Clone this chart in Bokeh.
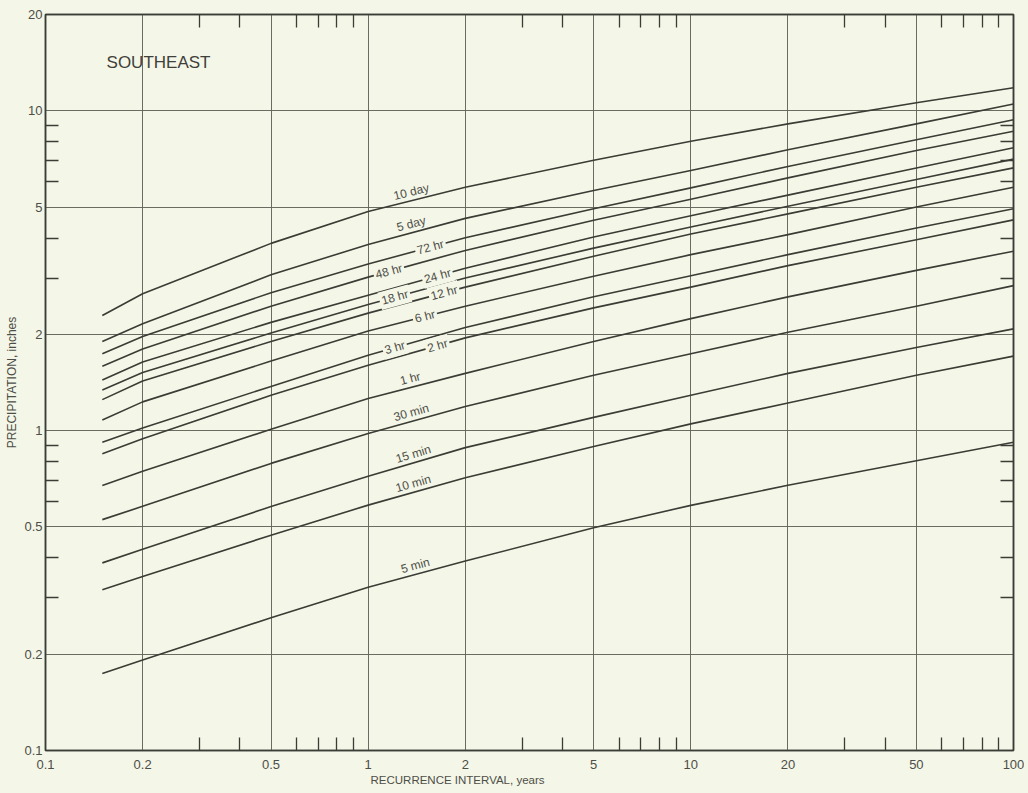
import numpy as np
from bokeh.plotting import figure
from bokeh.models import FixedTicker, LogAxis, Label, ColumnDataSource, Title
from bokeh.embed import file_html
from bokeh.resources import INLINE
from bokeh.core.properties import value

# ---------------- data ----------------
recurrence_years = [0.15, 0.2, 0.5, 1, 2, 5, 10, 20, 50, 100]

durations = ["10 day", "5 day", "72 hr", "48 hr", "24 hr", "18 hr", "12 hr",
             "6 hr", "3 hr", "2 hr", "1 hr", "30 min", "15 min", "10 min", "5 min"]

precip_10day = [2.29, 2.68, 3.85, 4.84, 5.77, 7.00, 8.03, 9.10, 10.6, 11.8]
precip_5day = [1.90, 2.16, 3.07, 3.82, 4.61, 5.63, 6.51, 7.55, 9.10, 10.5]
precip_72hr = [1.74, 1.97, 2.70, 3.32, 4.01, 4.94, 5.74, 6.70, 8.12, 9.37]
precip_48hr = [1.59, 1.80, 2.45, 3.02, 3.66, 4.55, 5.29, 6.17, 7.51, 8.63]
precip_24hr = [1.44, 1.64, 2.18, 2.65, 3.22, 4.03, 4.70, 5.45, 6.62, 7.66]
precip_18hr = [1.34, 1.52, 2.02, 2.48, 3.00, 3.72, 4.33, 5.03, 6.10, 7.06]
precip_12hr = [1.25, 1.43, 1.90, 2.33, 2.81, 3.51, 4.12, 4.76, 5.77, 6.63]
precip_6hr = [1.08, 1.23, 1.65, 2.05, 2.45, 3.04, 3.55, 4.10, 5.00, 5.77]
precip_3hr = [0.92, 1.02, 1.375, 1.72, 2.10, 2.62, 3.05, 3.55, 4.30, 4.94]
precip_2hr = [0.847, 0.943, 1.29, 1.60, 1.95, 2.42, 2.81, 3.28, 3.95, 4.56]
precip_1hr = [0.674, 0.747, 1.01, 1.26, 1.51, 1.90, 2.24, 2.62, 3.17, 3.64]
precip_30min = [0.527, 0.580, 0.790, 0.980, 1.19, 1.49, 1.74, 2.03, 2.45, 2.84]
precip_15min = [0.386, 0.426, 0.579, 0.720, 0.885, 1.10, 1.29, 1.51, 1.82, 2.08]
precip_10min = [0.318, 0.350, 0.471, 0.585, 0.712, 0.892, 1.05, 1.22, 1.49, 1.71]
precip_5min = [0.174, 0.192, 0.260, 0.324, 0.391, 0.497, 0.584, 0.675, 0.805, 0.92]

series = [precip_10day, precip_5day, precip_72hr, precip_48hr, precip_24hr,
          precip_18hr, precip_12hr, precip_6hr, precip_3hr, precip_2hr,
          precip_1hr, precip_30min, precip_15min, precip_10min, precip_5min]

# where each curve label sits (recurrence interval) and whether it breaks the line
label_at_years = [1.36, 1.36, 1.56, 1.16, 1.64, 1.21, 1.72, 1.50, 1.21, 1.64,
                  1.35, 1.36, 1.38, 1.38, 1.40]
label_inline = [False, False, True, True, True, True, True, True, True, True,
                False, False, False, False, False]

x_major = [0.1, 0.2, 0.5, 1, 2, 5, 10, 20, 50, 100]
x_tick_labels = ["0.1", "0.2", "0.5", "1", "2", "5", "10", "20", "50", "100"]
x_minor = [0.3, 0.4, 0.6, 0.7, 0.8, 0.9, 3, 4, 6, 7, 8, 9, 30, 40, 60, 70, 80, 90]
y_major = [0.1, 0.2, 0.5, 1, 2, 5, 10, 20]
y_tick_labels = ["0.1", "0.2", "0.5", "1", "2", "5", "10", "20"]
y_minor = [0.3, 0.4, 0.6, 0.7, 0.8, 0.9, 3, 4, 6, 7, 8, 9]

title_text = "SOUTHEAST"
x_title = "RECURRENCE INTERVAL, years"
y_title = "PRECIPITATION, inches"

# ---------------- styling ----------------
BG = "#f4f6e7"
INK = "#3a3c35"
GRID = "#62645b"
TXT = "#4d4e47"
FONT = "Liberation Sans"

W, H = 1024, 790
MB_L, MB_R, MB_T, MB_B = 45, 11, 14, 40
FRAME_W = W - MB_L - MB_R
FRAME_H = H - MB_T - MB_B

p = figure(width=W, height=H, x_axis_type="log", y_axis_type="log",
           x_range=(0.1, 100), y_range=(0.1, 20),
           output_backend="svg", toolbar_location=None,
           min_border_left=MB_L, min_border_right=MB_R,
           min_border_top=MB_T, min_border_bottom=MB_B,
           background_fill_color=BG, border_fill_color=BG)
p.outline_line_color = INK
p.outline_line_width = 1.5


def style_axis(ax):
    ax.axis_line_color = INK
    ax.axis_line_width = 1.5
    ax.major_tick_in = 0
    ax.major_tick_out = 0
    ax.minor_tick_in = 13
    ax.minor_tick_out = 0
    ax.minor_tick_line_color = INK
    ax.minor_tick_line_width = 1.3
    ax.major_label_text_font = FONT
    ax.major_label_text_font_size = "13px"
    ax.major_label_text_color = TXT
    ax.axis_label_text_font = FONT
    ax.axis_label_text_font_style = "normal"
    ax.axis_label_text_color = TXT


xa = p.below[0]
xa.ticker = FixedTicker(ticks=x_major, minor_ticks=x_minor)
xa.major_label_overrides = {t: l for t, l in zip(x_major, x_tick_labels)}
style_axis(xa)
xa.major_label_standoff = 9

ya = p.left[0]
ya.ticker = FixedTicker(ticks=y_major, minor_ticks=y_minor)
ya.major_label_overrides = {t: l for t, l in zip(y_major, y_tick_labels)}
ya.axis_label = y_title
style_axis(ya)
ya.axis_label_text_font_size = "12px"
ya.major_label_standoff = 3
ya.axis_label_standoff = 2

for side, minor in (("above", x_minor), ("right", y_minor)):
    ax = LogAxis(ticker=FixedTicker(ticks=[], minor_ticks=minor))
    style_axis(ax)
    ax.major_label_text_font_size = "0px"
    ax.major_label_standoff = 0
    p.add_layout(ax, side)

# x-axis title sits left of the frame centre, as in the original
p.add_layout(Title(text=x_title, align="left", offset=325, standoff=1,
                   text_font=FONT, text_font_size="11.5px",
                   text_font_style="normal", text_color=TXT), "below")

p.xgrid.ticker = FixedTicker(ticks=x_major[1:-1])
p.ygrid.ticker = FixedTicker(ticks=y_major[1:-1])
p.grid.grid_line_color = GRID
p.grid.grid_line_width = 1
p.grid.grid_line_alpha = 0.95

# ---------------- curves ----------------
for name, vals in zip(durations, series):
    p.line(recurrence_years, vals, line_color=INK, line_width=1.6,
           line_join="round")

# ---------------- curve labels ----------------
px_per_dec_x = FRAME_W / np.log10(100 / 0.1)
px_per_dec_y = FRAME_H / np.log10(20 / 0.1)
lx = np.log10(recurrence_years)


def curve_at(vals, xv):
    return 10 ** np.interp(np.log10(xv), lx, np.log10(vals))


lab = {"x": [], "y": [], "text": [], "angle": []}
inl = {"x": [], "y": [], "text": [], "angle": []}
for name, vals, xl, inline in zip(durations, series, label_at_years, label_inline):
    yv = curve_at(vals, xl)
    y1 = curve_at(vals, xl / 1.15)
    y2 = curve_at(vals, xl * 1.15)
    slope = (np.log10(y2) - np.log10(y1)) / (2 * np.log10(1.15))
    ang = float(np.arctan(slope * px_per_dec_y / px_per_dec_x))
    d = inl if inline else lab
    d["x"].append(xl)
    d["y"].append(float(yv))
    d["text"].append(name)
    d["angle"].append(ang)

p.text(x="x", y="y", text="text", angle="angle", source=ColumnDataSource(lab),
       text_align="center", text_baseline="middle", y_offset=-9,
       text_font=value(FONT), text_font_size="12px", text_color=TXT)
p.text(x="x", y="y", text="text", angle="angle", source=ColumnDataSource(inl),
       text_align="center", text_baseline="middle",
       text_font=value(FONT), text_font_size="12px", text_color=TXT,
       background_fill_color=BG, padding=2)

p.add_layout(Label(x=0.1546, y=14.2, text=title_text, text_baseline="middle",
                   text_font=FONT, text_font_size="17px", text_color="#3f403a"))

html = file_html(p, INLINE)
html = html.replace("<head>", "<head><style>body{background:%s;}</style>" % BG, 1)
open("out.html", "w").write(html)
